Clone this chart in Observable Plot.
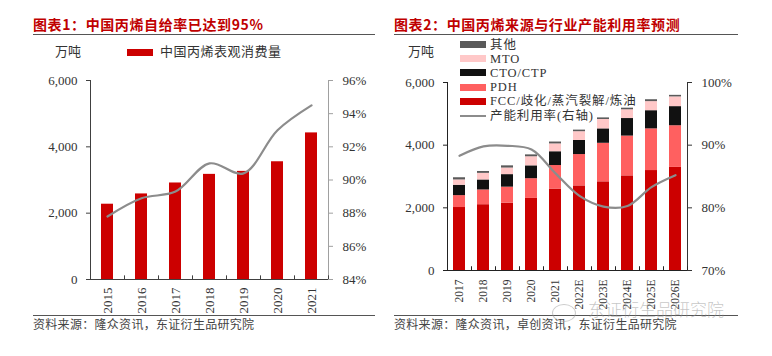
<!DOCTYPE html>
<html><head><meta charset="utf-8">
<script src="https://cdn.jsdelivr.net/npm/d3@7"></script>
<script src="https://cdn.jsdelivr.net/npm/@observablehq/plot@0.6"></script>
<style>
body{margin:0;width:772px;height:356px;position:relative;background:#fff;overflow:hidden;font-family:"Liberation Serif","Noto Sans CJK SC",serif;color:#333;}
.abs{position:absolute;white-space:nowrap;}
.title{color:#c00000;font-weight:bold;font-size:14px;line-height:18px;font-family:"Noto Sans CJK SC",sans-serif;letter-spacing:0.6px;}
.rule{position:absolute;height:0;border-top:1.5px solid #555;}
.lab{font-size:13px;line-height:16px;}
.src{font-size:12px;line-height:16px;color:#444;letter-spacing:0.3px;}
.sw{position:absolute;width:26px;height:7px;}
.lg{font-size:12.5px;line-height:14px;letter-spacing:0.9px;}
</style></head><body>
<div id="left" class="abs" style="left:0;top:0"></div>
<div id="right" class="abs" style="left:386px;top:0"></div>
<div id="overlay"></div>
<script>
// ---------- data: chart 1 ----------
const years1 = ["2015","2016","2017","2018","2019","2020","2021"];
const consumption = [2270, 2580, 2910, 3170, 3260, 3550, 4420];
const selfRate = [87.8, 88.9, 89.3, 91.0, 90.4, 93.0, 94.5];
const leftTicks = [0, 2000, 4000, 6000];
const rateTicks1 = [84, 86, 88, 90, 92, 94, 96];

// ---------- data: chart 2 ----------
const years2 = ["2017","2018","2019","2020","2021","2022E","2023E","2024E","2025E","2026E"];
const fcc   = [2010,2100,2150,2300,2600,2700,2830,3020,3190,3290];
const pdh   = [380, 470, 510, 630, 750, 1000,1230,1270,1330,1330];
const cto   = [330, 320, 400, 410, 440, 450, 460, 560, 580, 610];
const mto   = [170, 210, 210, 290, 250, 280, 300, 280, 290, 310];
const other = [70,  60,  70,  60,  60,  50,  50,  50,  60,  50];
const utilization = [88.3, 89.8, 89.9, 89.3, 85.5, 81.9, 80.2, 80.3, 83.3, 85.2];
const seriesNames = ["FCC/歧化/蒸汽裂解/炼油","PDH","CTO/CTP","MTO","其他"];
const seriesColors = ["#cc0000","#ff6060","#111111","#ffc8c8","#5a5a5a"];
const rateTicks2 = [70, 80, 90, 100];
const lineName = "产能利用率(右轴)";

const FONT = '"Liberation Serif","Noto Sans CJK SC",serif';
const fmt = d3.format(",");

// ---------- chart 1 ----------
{
  const W = 386, H = 356, ml = 90, mr = 58, mt = 80, mb = 77;
  const data = years1.map((y, i) => ({year: y, value: consumption[i], rate: selfRate[i]}));
  const rmin = 84, rmax = 96, ymax = 6000;
  const toL = r => (r - rmin) / (rmax - rmin) * ymax;
  const step = (W - ml - mr) / years1.length;
  const chart = Plot.plot({
    width: W, height: H, marginLeft: ml, marginRight: mr, marginTop: mt, marginBottom: mb,
    style: {fontFamily: FONT, fontSize: "13px", color: "#333", background: "transparent", overflow: "visible"},
    x: {domain: years1, paddingInner: 0.65, paddingOuter: 0.325, label: null, axis: null},
    y: {domain: [0, ymax], label: null, axis: null},
    marks: [
      Plot.barY(data, {x: "year", y: "value", fill: "#cc0000"}),
      Plot.line(data, {x: "year", y: d => toL(d.rate), stroke: "#8c8c8c", strokeWidth: 2.2, curve: "catmull-rom"}),
      Plot.frame({anchor: "left", stroke: "#404040"}),
      Plot.frame({anchor: "right", stroke: "#a0a0a0"}),
      Plot.ruleY([0], {stroke: "#404040"}),
      Plot.ruleX(years1, {x: d => d, y1: 0, y2: 110, dx: step / 2, stroke: "#404040"}),
      Plot.axisY(leftTicks, {anchor: "left", tickFormat: fmt, tickSize: 4, tickPadding: 9, label: null, stroke: "#404040"}),
      Plot.axisY(rateTicks1.map(toL), {anchor: "right", tickFormat: v => Math.round(rmin + v / ymax * (rmax - rmin)) + "%", tickSize: 4, tickPadding: 10, label: null, stroke: "#a0a0a0"}),
      Plot.axisX({anchor: "bottom", tickSize: 0, tickPadding: 8, tickRotate: -90, label: null, fontSize: 13})
    ]
  });
  document.getElementById("left").appendChild(chart);
}

// ---------- chart 2 ----------
{
  const W = 386, H = 356, ml = 61, mr = 85, mt = 82, mb = 86;
  const cols = [fcc, pdh, cto, mto, other];
  const data = years2.flatMap((y, i) => seriesNames.map((s, j) => ({year: y, series: s, value: cols[j][i]})));
  const lineData = years2.map((y, i) => ({year: y, rate: utilization[i]}));
  const rmin = 70, rmax = 100, ymax = 6000;
  const toL = r => (r - rmin) / (rmax - rmin) * ymax;
  const step = (W - ml - mr) / years2.length;
  const chart = Plot.plot({
    width: W, height: H, marginLeft: ml, marginRight: mr, marginTop: mt, marginBottom: mb,
    style: {fontFamily: FONT, fontSize: "13px", color: "#333", background: "transparent", overflow: "visible"},
    x: {domain: years2, paddingInner: 0.5, paddingOuter: 0.25, label: null, axis: null},
    y: {domain: [0, ymax], label: null, axis: null},
    color: {domain: seriesNames, range: seriesColors},
    marks: [
      Plot.barY(data, {x: "year", y: "value", fill: "series", order: seriesNames}),
      Plot.line(lineData, {x: "year", y: d => toL(d.rate), stroke: "#8c8c8c", strokeWidth: 2.2, curve: "catmull-rom"}),
      Plot.frame({anchor: "left", stroke: "#222"}),
      Plot.frame({anchor: "right", stroke: "#333"}),
      Plot.ruleY([0], {stroke: "#222"}),
      Plot.ruleX(years2, {x: d => d, y1: 0, y2: 120, dx: step / 2, stroke: "#222"}),
      Plot.axisY(leftTicks, {anchor: "left", tickFormat: fmt, tickSize: 4, tickPadding: 9, label: null, stroke: "#222"}),
      Plot.axisY(rateTicks2.map(toL), {anchor: "right", tickFormat: v => Math.round(rmin + v / ymax * (rmax - rmin)) + "%", tickSize: 4, tickPadding: 10, label: null, stroke: "#333"}),
      Plot.axisX({anchor: "bottom", tickSize: 0, tickPadding: 9, tickRotate: -90, label: null, fontSize: 11.5})
    ]
  });
  document.getElementById("right").appendChild(chart);
}

// ---------- overlay texts ----------
const ov = document.getElementById("overlay");
function add(html, cls, style) {
  const d = document.createElement("div");
  d.className = "abs " + (cls || "");
  d.setAttribute("style", style);
  d.innerHTML = html;
  ov.appendChild(d);
  return d;
}
add("图表1：中国丙烯自给率已达到95%", "title", "left:33px;top:15px;");
add("图表2：中国丙烯来源与行业产能利用率预测", "title", "left:394px;top:15px;");
add("", "rule", "left:33px;top:34px;width:342px;");
add("", "rule", "left:394px;top:34px;width:344px;");
add("", "rule", "left:33px;top:315px;width:342px;");
add("", "rule", "left:394px;top:315px;width:344px;");
add("资料来源：隆众资讯，东证衍生品研究院", "src", "left:33px;top:317px;");
add("资料来源：隆众资讯，卓创资讯，东证衍生品研究院", "src", "left:394px;top:317px;");

// left legend
add("万吨", "lab", "left:55px;top:44px;");
add("", "sw", "left:127px;top:49px;background:#cc0000;");
add("中国丙烯表观消费量", "lab", "left:160px;top:44px;letter-spacing:0.5px;");

// right legend
add("万吨", "lab", "left:408px;top:44px;");
const legendOrder = [4, 3, 2, 1, 0];
const rowY = [44.7, 58.7, 72.7, 87, 101];
legendOrder.forEach((j, k) => {
  add("", "sw", `left:460px;top:${rowY[k] - 3.5}px;background:${seriesColors[j]};`);
  add(seriesNames[j], "lg", `left:490px;top:${rowY[k] - 7}px;`);
});
add("", "", "left:460px;top:114.5px;width:26px;height:0;border-top:2.2px solid #8c8c8c;");
add(lineName, "lg", "left:490px;top:108.5px;");

// watermark
add("东证衍生品研究院", "", "left:588px;top:300px;font-family:'Noto Sans CJK SC',sans-serif;font-weight:300;font-size:17px;line-height:18px;color:rgba(150,150,150,0.55);");
add("", "", "left:552px;top:304px;width:22px;height:16px;border:1.5px solid rgba(160,160,160,0.55);border-radius:50%;");
</script>
</body></html>
